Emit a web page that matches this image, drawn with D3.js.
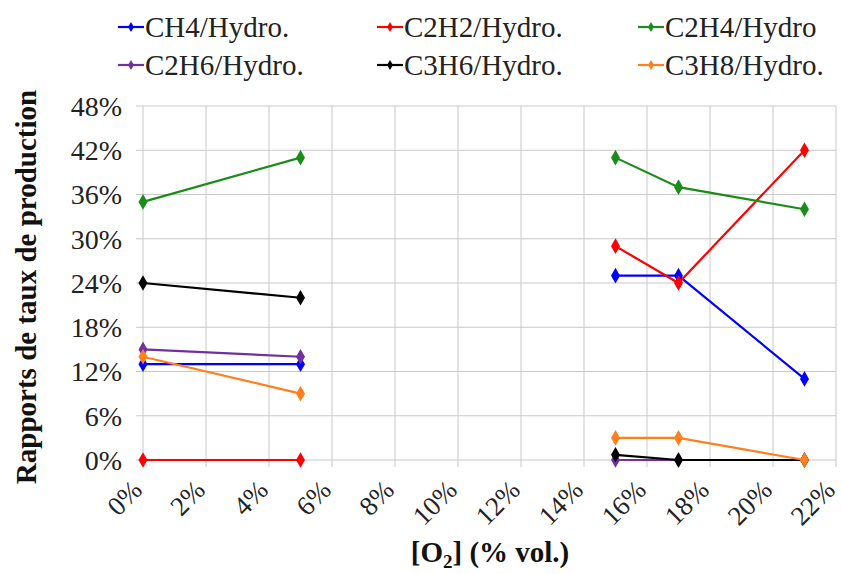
<!DOCTYPE html>
<html><head><meta charset="utf-8">
<script src="https://cdn.jsdelivr.net/npm/d3@7"></script>
<style>body{margin:0;background:#fff}svg{display:block}
svg text{font-family:"Liberation Serif","DejaVu Serif","Times New Roman",serif;}</style>
</head><body>
<svg id="c" width="842" height="574"></svg>
<script>
const o2Levels = [0, 5, 10, 15, 17, 21];
const seriesNames = ["CH4/Hydro.", "C2H2/Hydro.", "C2H4/Hydro", "C2H6/Hydro.", "C3H6/Hydro.", "C3H8/Hydro."];
const seriesColors = ["#0000ff", "#ff0000", "#1a8c1a", "#7030a0", "#000000", "#ff7f1e"];
const ch4 = [13, 13, null, 25, 25, 11];
const c2h2 = [0, 0, null, 29, 24, 42];
const c2h4 = [35, 41, null, 41, 37, 34];
const c2h6 = [15, 14, null, 0, 0, 0];
const c3h6 = [24, 22, null, 0.7, 0, 0];
const c3h8 = [14, 9, null, 3, 3, 0];
const seriesValues = [ch4, c2h2, c2h4, c2h6, c3h6, c3h8];
const xTicks = [0, 2, 4, 6, 8, 10, 12, 14, 16, 18, 20, 22];
const yTicks = [0, 6, 12, 18, 24, 30, 36, 42, 48];

const svg = d3.select("#c");
const x = d3.scaleLinear().domain([0, 22]).range([143, 836]);
const y = d3.scaleLinear().domain([0, 48]).range([460, 106]);

// grid
const g = svg.append("g");
g.selectAll(".hg").data(yTicks).join("line")
  .attr("x1", 136).attr("x2", x(22)).attr("y1", d => y(d)).attr("y2", d => y(d))
  .attr("stroke", "#c8c8c8").attr("stroke-width", 1);
g.selectAll(".vg").data(xTicks).join("line")
  .attr("x1", d => x(d)).attr("x2", d => x(d)).attr("y1", y(48)).attr("y2", 467)
  .attr("stroke", "#c8c8c8").attr("stroke-width", 1);

// y tick labels
svg.append("g").selectAll("text").data(yTicks).join("text")
  .attr("x", 122).attr("y", d => y(d)).attr("dy", "0.35em")
  .attr("text-anchor", "end").attr("font-size", 28)
  .attr("fill", "#222").text(d => d + "%");

// x tick labels
svg.append("g").selectAll("text").data(xTicks).join("text")
  .attr("transform", d => `translate(${x(d) - 6},${485}) rotate(-45)`)
  .attr("text-anchor", "end").attr("dy", "0.35em").attr("font-size", 27)
  .attr("fill", "#222").text(d => d + "%");

// series
const line = d3.line().defined(d => d[1] !== null).x(d => x(d[0])).y(d => y(d[1]));
const diamond = d3.symbol().type(d3.symbolDiamond).size(70);
seriesValues.forEach((vals, i) => {
  const pts = o2Levels.map((lv, j) => [lv, vals[j]]);
  svg.append("path").datum(pts).attr("d", line).attr("fill", "none")
    .attr("stroke", seriesColors[i]).attr("stroke-width", 2.2);
  svg.append("g").selectAll("path").data(pts.filter(p => p[1] !== null)).join("path")
    .attr("d", diamond).attr("transform", p => `translate(${x(p[0])},${y(p[1])})`)
    .attr("fill", seriesColors[i]);
});

// legend
const legCols = [118, 377, 638];
const legRows = [27, 65];
seriesNames.forEach((name, i) => {
  const lx = legCols[i % 3], ly = legRows[Math.floor(i / 3)];
  const lg = svg.append("g").attr("transform", `translate(${lx},${ly})`);
  lg.append("line").attr("x1", 0).attr("x2", 26).attr("stroke", seriesColors[i]).attr("stroke-width", 2.2);
  lg.append("path").attr("d", d3.symbol().type(d3.symbolDiamond).size(30)()).attr("transform", "translate(13,0)").attr("fill", seriesColors[i]);
  lg.append("text").attr("x", 27).attr("dy", "0.35em").attr("font-size", 29)
    .attr("fill", "#222").text(name);
});

// axis titles
svg.append("text").attr("transform", "translate(36,287) rotate(-90)")
  .attr("text-anchor", "middle").attr("font-size", 29).attr("font-weight", "bold")
  .attr("fill", "#111").text("Rapports de taux de production");
const xt = svg.append("text").attr("x", 490).attr("y", 562).attr("text-anchor", "middle")
  .attr("font-size", 29).attr("font-weight", "bold").attr("fill", "#111");
xt.append("tspan").text("[O");
xt.append("tspan").attr("font-size", 19).attr("dy", 6).text("2");
xt.append("tspan").attr("dy", -6).text("] (% vol.)");
</script>
</body></html>
